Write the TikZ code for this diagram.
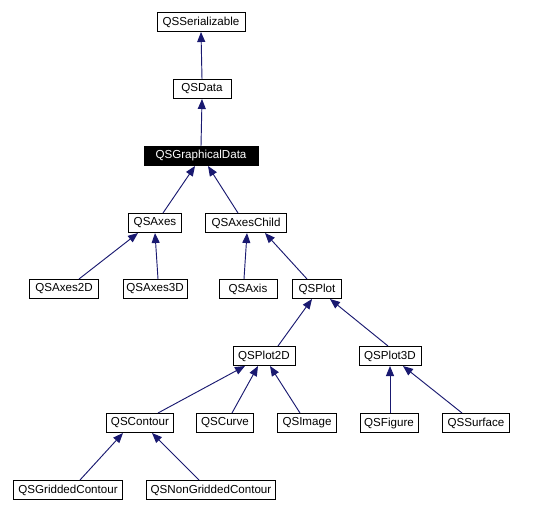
\documentclass[tikz,border=0pt]{standalone}
\usepackage{fontspec}
\setmainfont{Liberation Sans}
\usepackage{tikz}
\usetikzlibrary{arrows.meta}
\definecolor{edgeColor}{RGB}{25,25,112}
\tikzset{
    classnode/.style={
        rectangle,
        draw,
        line width=0.75pt,
        fill=white,
        font=\fontsize{8.7}{10}\selectfont,
        minimum height=14.25pt,
        inner sep=1pt
    },
    boxw/.style={minimum width=#1*0.75pt},
    ptr/.style={
        -{Triangle[length=7.5pt,width=6pt]},
        edgeColor,
        line width=0.7pt
    }
}
\begin{document}
\begin{tikzpicture}[x=0.75pt, y=-0.75pt]
                \useasboundingbox (0,0) rectangle (538,513);
                \node[classnode, boxw=88] (Ser) at (201,22) {QSSerializable};
                \node[classnode, boxw=58] (Data) at (202,89) {QSData};
                \node[classnode, boxw=114, fill=black, text=white] (GD) at (201,156) {QSGraphicalData};
                \node[classnode, boxw=53] (Axes) at (155,223) {QSAxes};
                \node[classnode, boxw=81] (AxesChild) at (246,223) {QSAxesChild};
                \node[classnode, boxw=69] (Axes2D) at (64,289) {QSAxes2D};
                \node[classnode, boxw=64] (Axes3D) at (155,289) {QSAxes3D};
                \node[classnode, boxw=58] (Axis) at (248,289) {QSAxis};
                \node[classnode, boxw=49] (Plot) at (317,289) {QSPlot};
                \node[classnode, boxw=62] (Plot2D) at (264,356) {QSPlot2D};
                \node[classnode, boxw=62] (Plot3D) at (390,356) {QSPlot3D};
                \node[classnode, boxw=67] (Contour) at (140,423) {QSContour};
                \node[classnode, boxw=57] (Curve) at (225,423) {QSCurve};
                \node[classnode, boxw=59] (Image) at (307,423) {QSImage};
                \node[classnode, boxw=58] (Figure) at (389,423) {QSFigure};
                \node[classnode, boxw=67] (Surface) at (476,423) {QSSurface};
                \node[classnode, boxw=109] (Gridded) at (68,490) {QSGriddedContour};
                \node[classnode, boxw=129] (NonGridded) at (211,490) {QSNonGriddedContour};
                
                \draw[ptr] (Data.north) -- (Ser.south);
                \draw[ptr] (GD.north) -- (Data.south);
                \draw[ptr] ([xshift=6pt]Axes.north) -- ([xshift=-4.5pt]GD.south);
                \draw[ptr] ([xshift=-6pt]AxesChild.north) -- ([xshift=5.25pt]GD.south);
                \draw[ptr] ([xshift=11.25pt]Axes2D.north) -- ([xshift=-12.75pt]Axes.south);
                \draw[ptr] ([xshift=2.25pt]Axes3D.north) -- (Axes.south);
                \draw[ptr] ([xshift=-3pt]Axis.north) -- ([xshift=0.75pt]AxesChild.south);
                \draw[ptr] ([xshift=-7.5pt]Plot.north) -- ([xshift=14.25pt]AxesChild.south);
                \draw[ptr] ([xshift=10.5pt]Plot2D.north) -- ([xshift=-3.75pt]Plot.south);
                \draw[ptr] ([xshift=-1.5pt]Plot3D.north) -- ([xshift=9.75pt]Plot.south);
                \draw[ptr] ([xshift=13.5pt]Contour.north) -- ([xshift=-14.25pt]Plot2D.south);
                \draw[ptr] ([xshift=5.25pt]Curve.north) -- ([xshift=-4.5pt]Plot2D.south);
                \draw[ptr] ([xshift=-5.25pt]Image.north) -- ([xshift=4.5pt]Plot2D.south);
                \draw[ptr] ([xshift=0.75pt]Figure.north) -- (Plot3D.south);
                \draw[ptr] ([xshift=-10.5pt]Surface.north) -- ([xshift=9.75pt]Plot3D.south);
                \draw[ptr] ([xshift=9pt]Gridded.north) -- ([xshift=-12.75pt]Contour.south);
                \draw[ptr] ([xshift=-9pt]NonGridded.north) -- ([xshift=9pt]Contour.south);
\end{tikzpicture}
\end{document}
